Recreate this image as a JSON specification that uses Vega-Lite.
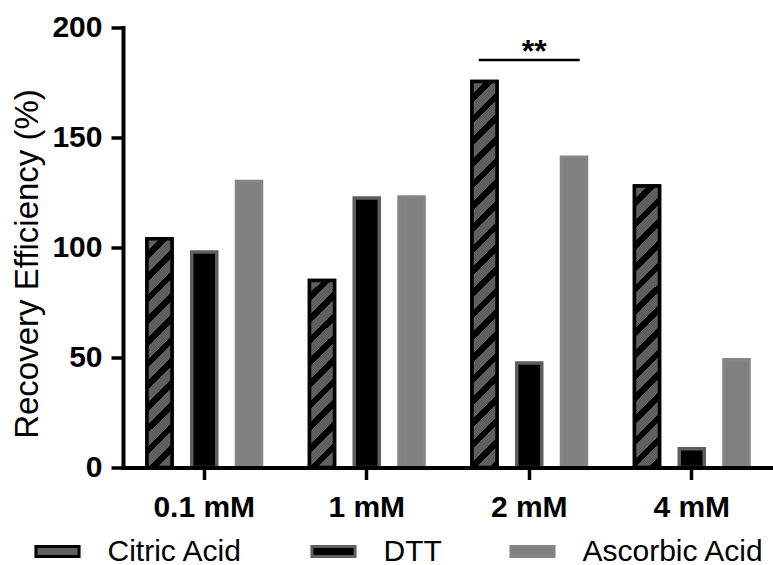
{
  "$schema": "https://vega.github.io/schema/vega-lite/v6.json",
  "width": 650,
  "height": 440,
  "autosize": {"type": "none"},
  "padding": {"left": 123, "top": 27.5, "right": 0, "bottom": 97.5},
  "background": "#ffffff",
  "config": {"view": {"stroke": null}, "font": "Liberation Sans"},
  "datasets": {
    "recovery": [
      {"conc": "0.1 mM", "group": "Citric Acid", "value": 104},
      {"conc": "0.1 mM", "group": "DTT", "value": 98},
      {"conc": "0.1 mM", "group": "Ascorbic Acid", "value": 130},
      {"conc": "1 mM", "group": "Citric Acid", "value": 85},
      {"conc": "1 mM", "group": "DTT", "value": 122.5},
      {"conc": "1 mM", "group": "Ascorbic Acid", "value": 123},
      {"conc": "2 mM", "group": "Citric Acid", "value": 175.5},
      {"conc": "2 mM", "group": "DTT", "value": 47.5},
      {"conc": "2 mM", "group": "Ascorbic Acid", "value": 141},
      {"conc": "4 mM", "group": "Citric Acid", "value": 128},
      {"conc": "4 mM", "group": "DTT", "value": 8.5},
      {"conc": "4 mM", "group": "Ascorbic Acid", "value": 49}
    ],
    "significance": [
      {"conc": "2 mM", "value": 185.2, "label": "**"}
    ]
  },
  "layer": [
    {
      "data": {"name": "recovery"},
      "encoding": {
        "x": {
          "field": "conc",
          "type": "nominal",
          "scale": {"domain": ["0.1 mM", "1 mM", "2 mM", "4 mM"], "paddingInner": 0, "paddingOuter": 0},
          "axis": {
            "title": null,
            "zindex": 1,
            "bandPosition": 0.5,
            "labelAngle": 0,
            "labelFont": "Liberation Sans",
            "labelFontSize": 30,
            "labelFontWeight": "bold",
            "labelColor": "#000000",
            "labelPadding": 13,
            "tickSize": 12,
            "tickWidth": 3.5,
            "tickColor": "#000000",
            "domainColor": "#000000",
            "domainWidth": 4,
            "domainCap": "square",
            "grid": false
          }
        },
        "xOffset": {
          "field": "group",
          "type": "nominal",
          "scale": {"domain": ["Citric Acid", "DTT", "Ascorbic Acid"], "paddingInner": 0.441, "paddingOuter": 0.536}
        },
        "y": {
          "field": "value",
          "type": "quantitative",
          "scale": {"domain": [0, 200], "nice": false},
          "axis": {
            "title": "Recovery Efficiency (%)",
            "zindex": 1,
            "values": [0, 50, 100, 150, 200],
            "grid": false,
            "labelFont": "Liberation Sans",
            "labelFontSize": 30,
            "labelFontWeight": "bold",
            "labelColor": "#000000",
            "labelPadding": 9,
            "labelFlush": false,
            "tickSize": 12,
            "tickWidth": 3.5,
            "tickColor": "#000000",
            "domainColor": "#000000",
            "domainWidth": 4,
            "domainCap": "square",
            "titleFont": "Liberation Sans",
            "titleFontSize": 33,
            "titleFontWeight": "normal",
            "titleColor": "#000000",
            "titleAngle": 270,
            "titleAlign": "center",
            "titleBaseline": "middle",
            "titleX": -96,
            "titleY": 236
          }
        }
      },
      "layer": [
        {
          "mark": {"type": "bar", "strokeWidth": 3.5},
          "encoding": {
            "fill": {
              "field": "group",
              "type": "nominal",
              "scale": {"domain": ["Citric Acid", "DTT", "Ascorbic Acid"], "range": ["#5f5f5f", "#000000", "#808080"]},
              "legend": {
                "title": null,
                "orient": "none",
                "legendX": -80.5,
                "legendY": 509,
                "direction": "horizontal",
                "columns": 3,
                "gridAlign": "none",
                "columnPadding": 62,
                "padding": 0,
                "symbolType": "M-3.08,-0.72H3.08V0.72H-3.08Z",
                "symbolSize": 196,
                "symbolStrokeWidth": 3,
                "symbolOpacity": 1,
                "labelFont": "Liberation Sans",
                "labelFontSize": 30,
                "labelColor": "#000000",
                "labelOffset": 35,
                "labelLimit": 400,
                "encode": {
                  "symbols": {
                    "update": {
                      "fill": {"signal": "datum.value === 'Citric Acid' ? {gradient: 'linear', x1: 0, y1: 0, x2: 11.94, y2: 2.77, stops: [{offset: 0, color: '#5f5f5f'}, {offset: 0.024, color: '#5f5f5f'}, {offset: 0.024, color: '#000000'}, {offset: 0.04, color: '#000000'}, {offset: 0.04, color: '#5f5f5f'}, {offset: 0.064, color: '#5f5f5f'}, {offset: 0.064, color: '#000000'}, {offset: 0.08, color: '#000000'}, {offset: 0.08, color: '#5f5f5f'}, {offset: 0.104, color: '#5f5f5f'}, {offset: 0.104, color: '#000000'}, {offset: 0.12, color: '#000000'}]} : datum.value === 'DTT' ? '#000000' : '#808080'"},
                      "stroke": {"signal": "datum.value === 'Citric Acid' ? '#000000' : datum.value === 'DTT' ? '#5f5f5f' : '#858585'"},
                      "strokeWidth": {"value": 3},
                      "opacity": {"value": 1}
                    }
                  }
                }
              }
            },
            "stroke": {
              "field": "group",
              "type": "nominal",
              "scale": {"domain": ["Citric Acid", "DTT", "Ascorbic Acid"], "range": ["#000000", "#5f5f5f", "#858585"]},
              "legend": null
            }
          }
        },
        {
          "transform": [{"filter": "datum.group === 'Citric Acid' && datum.conc === '0.1 mM'"}],
          "mark": {
            "type": "bar",
            "stroke": "#000000",
            "strokeWidth": 3.5,
            "fill": {
              "gradient": "linear", "x1": 0, "y1": 0, "x2": 0.256, "y2": 2.3432,
              "stops": [
                {"offset": 0, "color": "#5f5f5f"}, {"offset": 0.024, "color": "#5f5f5f"}, {"offset": 0.024, "color": "#000000"}, {"offset": 0.04, "color": "#000000"},
                {"offset": 0.04, "color": "#5f5f5f"}, {"offset": 0.064, "color": "#5f5f5f"}, {"offset": 0.064, "color": "#000000"}, {"offset": 0.08, "color": "#000000"},
                {"offset": 0.08, "color": "#5f5f5f"}, {"offset": 0.104, "color": "#5f5f5f"}, {"offset": 0.104, "color": "#000000"}, {"offset": 0.12, "color": "#000000"},
                {"offset": 0.12, "color": "#5f5f5f"}, {"offset": 0.144, "color": "#5f5f5f"}, {"offset": 0.144, "color": "#000000"}, {"offset": 0.16, "color": "#000000"},
                {"offset": 0.16, "color": "#5f5f5f"}, {"offset": 0.184, "color": "#5f5f5f"}, {"offset": 0.184, "color": "#000000"}, {"offset": 0.2, "color": "#000000"},
                {"offset": 0.2, "color": "#5f5f5f"}, {"offset": 0.224, "color": "#5f5f5f"}, {"offset": 0.224, "color": "#000000"}, {"offset": 0.24, "color": "#000000"},
                {"offset": 0.24, "color": "#5f5f5f"}, {"offset": 0.264, "color": "#5f5f5f"}, {"offset": 0.264, "color": "#000000"}, {"offset": 0.28, "color": "#000000"},
                {"offset": 0.28, "color": "#5f5f5f"}, {"offset": 0.304, "color": "#5f5f5f"}, {"offset": 0.304, "color": "#000000"}, {"offset": 0.32, "color": "#000000"},
                {"offset": 0.32, "color": "#5f5f5f"}, {"offset": 0.344, "color": "#5f5f5f"}, {"offset": 0.344, "color": "#000000"}, {"offset": 0.36, "color": "#000000"},
                {"offset": 0.36, "color": "#5f5f5f"}, {"offset": 0.384, "color": "#5f5f5f"}, {"offset": 0.384, "color": "#000000"}, {"offset": 0.4, "color": "#000000"},
                {"offset": 0.4, "color": "#5f5f5f"}, {"offset": 0.424, "color": "#5f5f5f"}, {"offset": 0.424, "color": "#000000"}, {"offset": 0.44, "color": "#000000"},
                {"offset": 0.44, "color": "#5f5f5f"}, {"offset": 0.464, "color": "#5f5f5f"}, {"offset": 0.464, "color": "#000000"}, {"offset": 0.48, "color": "#000000"}
              ]
            }
          }
        },
        {
          "transform": [{"filter": "datum.group === 'Citric Acid' && datum.conc === '1 mM'"}],
          "mark": {
            "type": "bar",
            "stroke": "#000000",
            "strokeWidth": 3.5,
            "fill": {
              "gradient": "linear", "x1": 0, "y1": 0, "x2": 0.3794, "y2": 2.8443,
              "stops": [
                {"offset": 0, "color": "#5f5f5f"}, {"offset": 0.024, "color": "#5f5f5f"}, {"offset": 0.024, "color": "#000000"}, {"offset": 0.04, "color": "#000000"},
                {"offset": 0.04, "color": "#5f5f5f"}, {"offset": 0.064, "color": "#5f5f5f"}, {"offset": 0.064, "color": "#000000"}, {"offset": 0.08, "color": "#000000"},
                {"offset": 0.08, "color": "#5f5f5f"}, {"offset": 0.104, "color": "#5f5f5f"}, {"offset": 0.104, "color": "#000000"}, {"offset": 0.12, "color": "#000000"},
                {"offset": 0.12, "color": "#5f5f5f"}, {"offset": 0.144, "color": "#5f5f5f"}, {"offset": 0.144, "color": "#000000"}, {"offset": 0.16, "color": "#000000"},
                {"offset": 0.16, "color": "#5f5f5f"}, {"offset": 0.184, "color": "#5f5f5f"}, {"offset": 0.184, "color": "#000000"}, {"offset": 0.2, "color": "#000000"},
                {"offset": 0.2, "color": "#5f5f5f"}, {"offset": 0.224, "color": "#5f5f5f"}, {"offset": 0.224, "color": "#000000"}, {"offset": 0.24, "color": "#000000"},
                {"offset": 0.24, "color": "#5f5f5f"}, {"offset": 0.264, "color": "#5f5f5f"}, {"offset": 0.264, "color": "#000000"}, {"offset": 0.28, "color": "#000000"},
                {"offset": 0.28, "color": "#5f5f5f"}, {"offset": 0.304, "color": "#5f5f5f"}, {"offset": 0.304, "color": "#000000"}, {"offset": 0.32, "color": "#000000"},
                {"offset": 0.32, "color": "#5f5f5f"}, {"offset": 0.344, "color": "#5f5f5f"}, {"offset": 0.344, "color": "#000000"}, {"offset": 0.36, "color": "#000000"},
                {"offset": 0.36, "color": "#5f5f5f"}, {"offset": 0.384, "color": "#5f5f5f"}, {"offset": 0.384, "color": "#000000"}, {"offset": 0.4, "color": "#000000"}
              ]
            }
          }
        },
        {
          "transform": [{"filter": "datum.group === 'Citric Acid' && datum.conc === '2 mM'"}],
          "mark": {
            "type": "bar",
            "stroke": "#000000",
            "strokeWidth": 3.5,
            "fill": {
              "gradient": "linear", "x1": 0, "y1": 0, "x2": 0.0904, "y2": 1.3978,
              "stops": [
                {"offset": 0, "color": "#5f5f5f"}, {"offset": 0.024, "color": "#5f5f5f"}, {"offset": 0.024, "color": "#000000"}, {"offset": 0.04, "color": "#000000"},
                {"offset": 0.04, "color": "#5f5f5f"}, {"offset": 0.064, "color": "#5f5f5f"}, {"offset": 0.064, "color": "#000000"}, {"offset": 0.08, "color": "#000000"},
                {"offset": 0.08, "color": "#5f5f5f"}, {"offset": 0.104, "color": "#5f5f5f"}, {"offset": 0.104, "color": "#000000"}, {"offset": 0.12, "color": "#000000"},
                {"offset": 0.12, "color": "#5f5f5f"}, {"offset": 0.144, "color": "#5f5f5f"}, {"offset": 0.144, "color": "#000000"}, {"offset": 0.16, "color": "#000000"},
                {"offset": 0.16, "color": "#5f5f5f"}, {"offset": 0.184, "color": "#5f5f5f"}, {"offset": 0.184, "color": "#000000"}, {"offset": 0.2, "color": "#000000"},
                {"offset": 0.2, "color": "#5f5f5f"}, {"offset": 0.224, "color": "#5f5f5f"}, {"offset": 0.224, "color": "#000000"}, {"offset": 0.24, "color": "#000000"},
                {"offset": 0.24, "color": "#5f5f5f"}, {"offset": 0.264, "color": "#5f5f5f"}, {"offset": 0.264, "color": "#000000"}, {"offset": 0.28, "color": "#000000"},
                {"offset": 0.28, "color": "#5f5f5f"}, {"offset": 0.304, "color": "#5f5f5f"}, {"offset": 0.304, "color": "#000000"}, {"offset": 0.32, "color": "#000000"},
                {"offset": 0.32, "color": "#5f5f5f"}, {"offset": 0.344, "color": "#5f5f5f"}, {"offset": 0.344, "color": "#000000"}, {"offset": 0.36, "color": "#000000"},
                {"offset": 0.36, "color": "#5f5f5f"}, {"offset": 0.384, "color": "#5f5f5f"}, {"offset": 0.384, "color": "#000000"}, {"offset": 0.4, "color": "#000000"},
                {"offset": 0.4, "color": "#5f5f5f"}, {"offset": 0.424, "color": "#5f5f5f"}, {"offset": 0.424, "color": "#000000"}, {"offset": 0.44, "color": "#000000"},
                {"offset": 0.44, "color": "#5f5f5f"}, {"offset": 0.464, "color": "#5f5f5f"}, {"offset": 0.464, "color": "#000000"}, {"offset": 0.48, "color": "#000000"},
                {"offset": 0.48, "color": "#5f5f5f"}, {"offset": 0.504, "color": "#5f5f5f"}, {"offset": 0.504, "color": "#000000"}, {"offset": 0.52, "color": "#000000"},
                {"offset": 0.52, "color": "#5f5f5f"}, {"offset": 0.544, "color": "#5f5f5f"}, {"offset": 0.544, "color": "#000000"}, {"offset": 0.56, "color": "#000000"},
                {"offset": 0.56, "color": "#5f5f5f"}, {"offset": 0.584, "color": "#5f5f5f"}, {"offset": 0.584, "color": "#000000"}, {"offset": 0.6, "color": "#000000"},
                {"offset": 0.6, "color": "#5f5f5f"}, {"offset": 0.624, "color": "#5f5f5f"}, {"offset": 0.624, "color": "#000000"}, {"offset": 0.64, "color": "#000000"},
                {"offset": 0.64, "color": "#5f5f5f"}, {"offset": 0.664, "color": "#5f5f5f"}, {"offset": 0.664, "color": "#000000"}, {"offset": 0.68, "color": "#000000"},
                {"offset": 0.68, "color": "#5f5f5f"}, {"offset": 0.704, "color": "#5f5f5f"}, {"offset": 0.704, "color": "#000000"}, {"offset": 0.72, "color": "#000000"},
                {"offset": 0.72, "color": "#5f5f5f"}, {"offset": 0.744, "color": "#5f5f5f"}, {"offset": 0.744, "color": "#000000"}, {"offset": 0.76, "color": "#000000"},
                {"offset": 0.76, "color": "#5f5f5f"}, {"offset": 0.784, "color": "#5f5f5f"}, {"offset": 0.784, "color": "#000000"}, {"offset": 0.8, "color": "#000000"}
              ]
            }
          }
        },
        {
          "transform": [{"filter": "datum.group === 'Citric Acid' && datum.conc === '4 mM'"}],
          "mark": {
            "type": "bar",
            "stroke": "#000000",
            "strokeWidth": 3.5,
            "fill": {
              "gradient": "linear", "x1": 0, "y1": 0, "x2": 0.1699, "y2": 1.9128,
              "stops": [
                {"offset": 0, "color": "#5f5f5f"}, {"offset": 0.024, "color": "#5f5f5f"}, {"offset": 0.024, "color": "#000000"}, {"offset": 0.04, "color": "#000000"},
                {"offset": 0.04, "color": "#5f5f5f"}, {"offset": 0.064, "color": "#5f5f5f"}, {"offset": 0.064, "color": "#000000"}, {"offset": 0.08, "color": "#000000"},
                {"offset": 0.08, "color": "#5f5f5f"}, {"offset": 0.104, "color": "#5f5f5f"}, {"offset": 0.104, "color": "#000000"}, {"offset": 0.12, "color": "#000000"},
                {"offset": 0.12, "color": "#5f5f5f"}, {"offset": 0.144, "color": "#5f5f5f"}, {"offset": 0.144, "color": "#000000"}, {"offset": 0.16, "color": "#000000"},
                {"offset": 0.16, "color": "#5f5f5f"}, {"offset": 0.184, "color": "#5f5f5f"}, {"offset": 0.184, "color": "#000000"}, {"offset": 0.2, "color": "#000000"},
                {"offset": 0.2, "color": "#5f5f5f"}, {"offset": 0.224, "color": "#5f5f5f"}, {"offset": 0.224, "color": "#000000"}, {"offset": 0.24, "color": "#000000"},
                {"offset": 0.24, "color": "#5f5f5f"}, {"offset": 0.264, "color": "#5f5f5f"}, {"offset": 0.264, "color": "#000000"}, {"offset": 0.28, "color": "#000000"},
                {"offset": 0.28, "color": "#5f5f5f"}, {"offset": 0.304, "color": "#5f5f5f"}, {"offset": 0.304, "color": "#000000"}, {"offset": 0.32, "color": "#000000"},
                {"offset": 0.32, "color": "#5f5f5f"}, {"offset": 0.344, "color": "#5f5f5f"}, {"offset": 0.344, "color": "#000000"}, {"offset": 0.36, "color": "#000000"},
                {"offset": 0.36, "color": "#5f5f5f"}, {"offset": 0.384, "color": "#5f5f5f"}, {"offset": 0.384, "color": "#000000"}, {"offset": 0.4, "color": "#000000"},
                {"offset": 0.4, "color": "#5f5f5f"}, {"offset": 0.424, "color": "#5f5f5f"}, {"offset": 0.424, "color": "#000000"}, {"offset": 0.44, "color": "#000000"},
                {"offset": 0.44, "color": "#5f5f5f"}, {"offset": 0.464, "color": "#5f5f5f"}, {"offset": 0.464, "color": "#000000"}, {"offset": 0.48, "color": "#000000"},
                {"offset": 0.48, "color": "#5f5f5f"}, {"offset": 0.504, "color": "#5f5f5f"}, {"offset": 0.504, "color": "#000000"}, {"offset": 0.52, "color": "#000000"},
                {"offset": 0.52, "color": "#5f5f5f"}, {"offset": 0.544, "color": "#5f5f5f"}, {"offset": 0.544, "color": "#000000"}, {"offset": 0.56, "color": "#000000"},
                {"offset": 0.56, "color": "#5f5f5f"}, {"offset": 0.584, "color": "#5f5f5f"}, {"offset": 0.584, "color": "#000000"}, {"offset": 0.6, "color": "#000000"}
              ]
            }
          }
        }
      ]
    },
    {
      "data": {"name": "significance"},
      "mark": {"type": "tick", "orient": "horizontal", "size": 101, "thickness": 2.5, "color": "#000000", "opacity": 1},
      "encoding": {
        "x": {"field": "conc", "type": "nominal"},
        "y": {"field": "value", "type": "quantitative"}
      }
    },
    {
      "data": {"name": "significance"},
      "mark": {"type": "text", "font": "Liberation Sans", "fontSize": 32, "fontWeight": "bold", "color": "#000000", "baseline": "alphabetic", "align": "center", "dx": 5, "dy": 2},
      "encoding": {
        "x": {"field": "conc", "type": "nominal"},
        "y": {"field": "value", "type": "quantitative"},
        "text": {"field": "label"}
      }
    }
  ]
}
